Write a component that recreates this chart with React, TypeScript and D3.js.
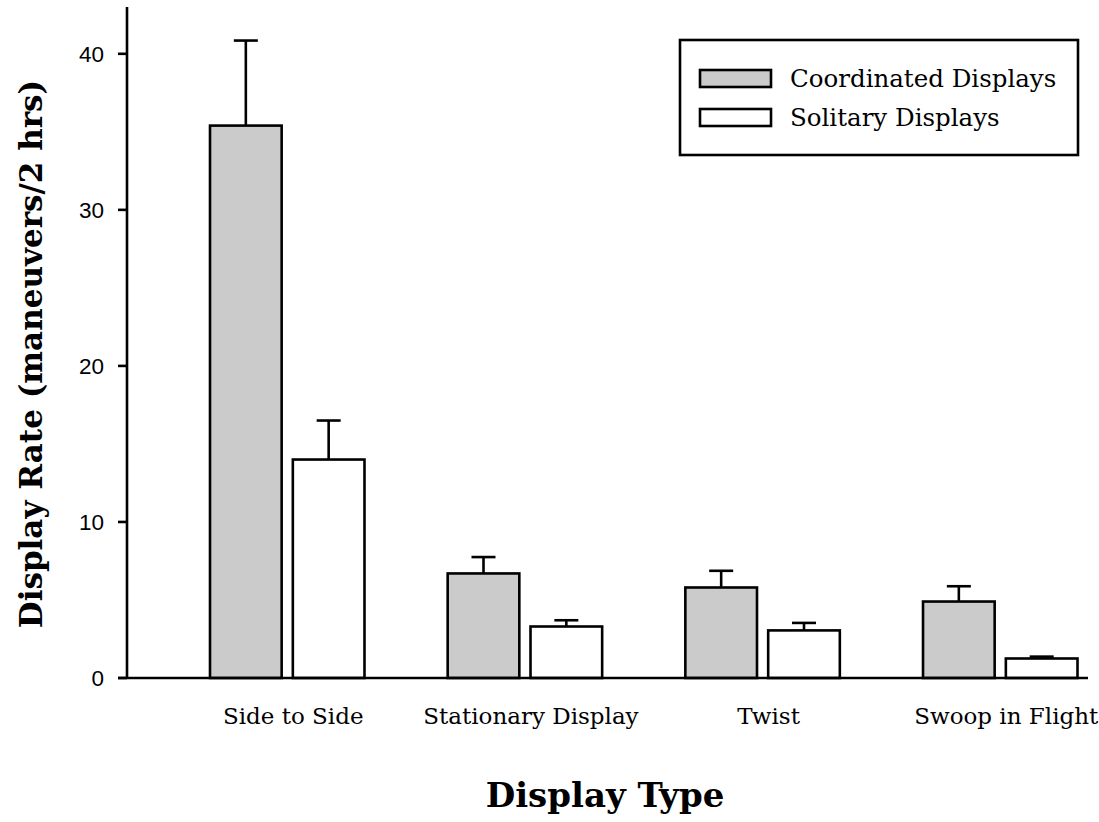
import React from "react";
import * as d3 from "d3";

// Display types along the x axis
const categories = ["Side to Side", "Stationary Display", "Twist", "Swoop in Flight"];
// Series shown in each group
const seriesNames = ["Coordinated Displays", "Solitary Displays"];
// Mean display rate (maneuvers / 2 hrs)
const coordinatedMeans = [35.4, 6.7, 5.8, 4.9];
const solitaryMeans = [14.0, 3.3, 3.05, 1.25];
// Standard errors (drawn upward only)
const coordinatedErrors = [5.45, 1.05, 1.07, 0.98];
const solitaryErrors = [2.5, 0.4, 0.48, 0.12];
// Y axis ticks
const yTicks = [0, 10, 20, 30, 40];

const seriesFill = ["#cbcbcb", "#ffffff"];

const W = 1099;
const H = 822;
const axisX = 127;
const axisBottom = 678;
const axisTop = 7;
const sw = 2.6;

export default function App() {
  const y = d3.scaleLinear().domain([0, 43]).range([axisBottom, axisTop]);
  const x = d3.scaleBand<string>().domain(categories).range([210, 1077.5]).paddingInner(0.35).paddingOuter(0);
  const xs = d3.scaleBand<string>().domain(seriesNames).range([0, x.bandwidth()]).paddingInner(0.135).paddingOuter(0);

  const means = [coordinatedMeans, solitaryMeans];
  const errs = [coordinatedErrors, solitaryErrors];
  const serif = "'DejaVu Serif', serif";
  const sans = "'Liberation Sans', Arial, sans-serif";

  return (
    <svg width={W} height={H} style={{ position: "absolute", left: 0, top: 0, background: "#fff" }}>
      {/* bars with upward error bars */}
      {categories.map((c, ci) =>
        seriesNames.map((s, si) => {
          const bx = (x(c) ?? 0) + (xs(s) ?? 0);
          const bw = xs.bandwidth();
          const v = means[si][ci];
          const top = y(v + errs[si][ci]);
          const cx = bx + bw / 2;
          return (
            <g key={c + s}>
              <line x1={cx} x2={cx} y1={y(v)} y2={top} stroke="#000" strokeWidth={sw} />
              <line x1={cx - 12} x2={cx + 12} y1={top} y2={top} stroke="#000" strokeWidth={sw} />
              <rect x={bx} y={y(v)} width={bw} height={y(0) - y(v)} fill={seriesFill[si]} stroke="#000" strokeWidth={sw} />
            </g>
          );
        })
      )}

      {/* axes */}
      <line x1={axisX} x2={axisX} y1={axisTop} y2={axisBottom} stroke="#000" strokeWidth={sw} />
      <line x1={118} x2={1088} y1={axisBottom} y2={axisBottom} stroke="#000" strokeWidth={sw} />
      {yTicks.map((t) => (
        <g key={t}>
          <line x1={118} x2={axisX} y1={y(t)} y2={y(t)} stroke="#000" strokeWidth={sw} />
          <text x={104} y={y(t)} dy="0.36em" textAnchor="end" fontFamily={sans} fontSize={22.5} fill="#000">
            {t}
          </text>
        </g>
      ))}

      {/* category labels */}
      {categories.map((c) => (
        <text key={c} x={(x(c) ?? 0) + x.bandwidth() / 2 + 6} y={724} textAnchor="middle" fontFamily={serif} fontSize={23} fill="#000">
          {c}
        </text>
      ))}

      {/* axis titles */}
      <text x={605} y={807} textAnchor="middle" fontFamily={serif} fontWeight="bold" fontSize={34} fill="#000">
        Display Type
      </text>
      <text transform={`translate(42,354) rotate(-90)`} textAnchor="middle" fontFamily={serif} fontWeight="bold" fontSize={31} fill="#000">
        Display Rate (maneuvers/2 hrs)
      </text>

      {/* legend */}
      <rect x={680} y={40} width={398} height={115} fill="#fff" stroke="#000" strokeWidth={sw} />
      {seriesNames.map((s, i) => (
        <g key={s} transform={`translate(0,${i * 39})`}>
          <rect x={700} y={70} width={71} height={17} fill={seriesFill[i]} stroke="#000" strokeWidth={sw} />
          <text x={790} y={87} fontFamily={serif} fontSize={24.5} fill="#000">
            {s}
          </text>
        </g>
      ))}
    </svg>
  );
}
